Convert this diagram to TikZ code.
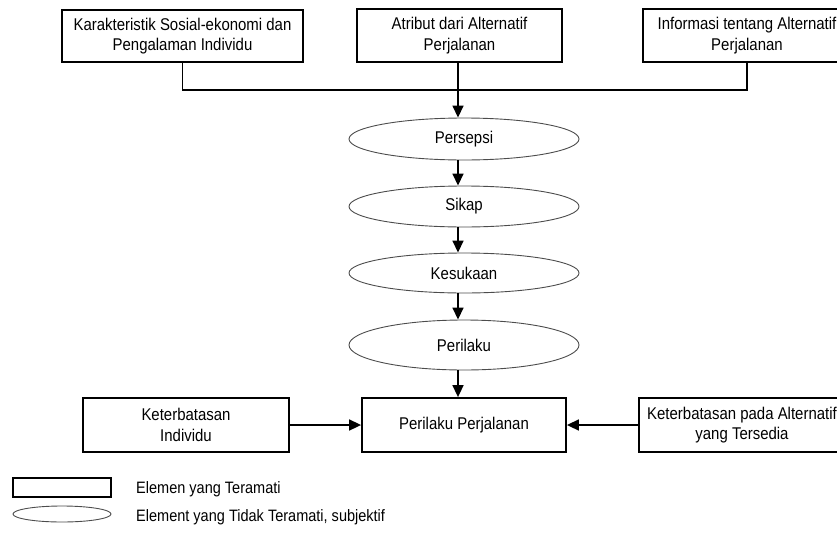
\documentclass[tikz,border=0pt]{standalone}
\usepackage{fontspec}
\setmainfont[FakeStretch=0.88]{Liberation Sans}
\usetikzlibrary{arrows.meta,shapes.geometric}
\newcommand\ctrline[1]{\makebox[0pt]{#1}}
\begin{document}
\begin{tikzpicture}[x=1pt,y=-1pt,
  box/.style={draw, line width=1.8pt, rectangle, inner sep=0pt, align=center, font=\fontsize{17}{20.5}\selectfont},
  oval/.style={draw=black!70, line width=0.9pt, ellipse, inner sep=0pt, minimum width=230pt, font=\fontsize{17}{20.5}\selectfont},
  conn/.style={line width=1.6pt},
  arr/.style={conn, -{Triangle[length=12pt,width=11pt]}},
  legtext/.style={anchor=west, inner sep=0pt, font=\fontsize{16.5}{20}\selectfont}]
\useasboundingbox (0,0) rectangle (837,533);
% top boxes
\node[box, minimum width=241pt, minimum height=52pt] (b1) at (182.5,36) {\ctrline{Karakteristik Sosial-ekonomi dan}\\\ctrline{Pengalaman Individu}};
\node[box, minimum width=205pt, minimum height=53pt] (b2) at (459.5,35.5) {\ctrline{Atribut dari Alternatif}\\\ctrline{Perjalanan}};
\node[box, minimum width=208pt, minimum height=53pt] (b3) at (747,35.5) {\ctrline{Informasi tentang Alternatif}\\\ctrline{Perjalanan}};
% ellipses
\node[oval, minimum height=42pt] (p1) at (464,139) {Persepsi};
\node[oval, minimum height=41pt] (p2) at (464,206.5) {Sikap};
\node[oval, minimum height=40pt] (p3) at (464,273) {Kesukaan};
\node[oval, minimum height=50pt] (p4) at (464,345) {Perilaku};
% bottom boxes
\node[box, minimum width=204pt, minimum height=54pt] (pp) at (464,425) {Perilaku Perjalanan};
\node[box, minimum width=206pt, minimum height=54pt] (ki) at (186,425) {\ctrline{Keterbatasan}\\\ctrline{Individu}};
\node[box, minimum width=206pt, minimum height=54pt] (ka) at (742,425) {\ctrline{Keterbatasan pada Alternatif}\\\ctrline{yang Tersedia}};
% connectors
\coordinate (j) at (458,90);
\draw[conn] (b1.south) |- (b3.south |- j) -- (b3.south);
\draw[arr] (b2.south -| j) -- (p1.north -| j);
\draw[arr] (p1.south -| j) -- (p2.north -| j);
\draw[arr] (p2.south -| j) -- (p3.north -| j);
\draw[arr] (p3.south -| j) -- (p4.north -| j);
\draw[arr] (p4.south -| j) -- (pp.north -| j);
\draw[arr] (ki.east) -- (pp.west);
\draw[arr] (ka.west) -- (pp.east);
% legend
\node[box, line width=1.5pt, minimum width=98pt, minimum height=19pt] (lr) at (62,487.5) {};
\node[oval, minimum width=98pt, minimum height=16pt] (le) at (62,514) {};
\node[legtext] (t1) at (136,489) {Elemen yang Teramati};
\node[legtext] (t2) at (136,517) {Element yang Tidak Teramati, subjektif};
\end{tikzpicture}
\end{document}
